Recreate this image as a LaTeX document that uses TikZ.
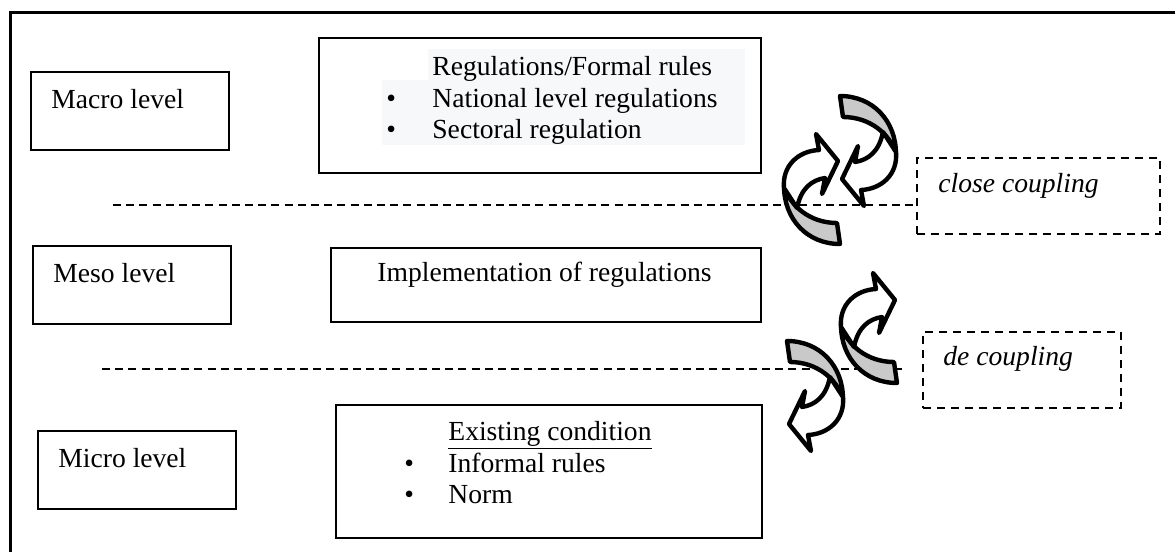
\documentclass[tikz,border=0pt]{standalone}
\usepackage{fontspec}
\setmainfont{Liberation Serif}
\usetikzlibrary{fit}
\definecolor{backgray}{HTML}{C9C9C9}
\definecolor{softshade}{HTML}{F7F8FA}
\tikzset{
  levelbox/.style={
    draw,
    line width=1pt,
    inner sep=0pt
  },
  couplebox/.style={
    draw,
    line width=1.1pt,
    dash pattern=on 4pt off 3pt,
    inner sep=0pt
  },
  sepline/.style={
    line width=0.8pt,
    dash pattern=on 4pt off 2.6pt
  },
  txt/.style={
    anchor=base west,
    inner sep=0pt,
    font=\fontsize{13.8}{16}\selectfont
  },
  pics/turnarrow/.style={
    code={
      \draw[line width=2.2pt, line join=round, fill=backgray]
        (-2,-56) .. controls (31,-56) and (54,-31) .. (54,2)
        .. controls (48,-18) and (28,-35) .. (1,-35) -- cycle;
      \draw[line width=2.2pt, line join=round, fill=white]
        (41,-20) .. controls (37,0) and (26,8) .. (13,10)
        -- (16,-6) -- (0,27) -- (22,54) -- (19,38)
        .. controls (40,37) and (56,22) .. (54,0) -- cycle;
    }
  }
}

\begin{document}
\begin{tikzpicture}[x=0.5pt,y=-0.5pt]
  \useasboundingbox (0,0) rectangle (1175,552);
  \draw[line width=1.5pt] (1175,12) -- (10,12) -- (10,552);
  % levels
  \foreach \n/\xa/\ya/\txt in {macro/31/72/Macro, meso/33/246/Meso, micro/38/431/Micro}{
    \node[levelbox, fit={(\xa,\ya) (\xa+198,\ya+78)}] (\n) {};
    \node[txt] (\n-txt) at (\xa+20,\ya+36) {\txt\ level};
  }
  % content boxes
  \fill[softshade] (428,49) rectangle (745,80);
  \fill[softshade] (382,80) rectangle (745,145);
  \node[levelbox, fit={(319,38) (761,173)}] (formal) {};
  \node[levelbox, fit={(331,248) (761,322)}] (impl) {};
  \node[levelbox, fit={(336,405) (762,538)}] (exist) {};
  \node[txt] (formal-title) at (432,75) {Regulations/Formal rules};
  \node[txt] (formal-1) at (432,107) {National level regulations};
  \node[txt] (formal-2) at (432,138) {Sectoral regulation};
  \node[txt] (impl-txt) at (377,281) {Implementation of regulations};
  \node[txt] (exist-title) at (448,440) {\underline{Existing condition}};
  \node[txt] (exist-1) at (448,472) {Informal rules};
  \node[txt] (exist-2) at (448,503) {Norm};
  \foreach \bx/\by in {386/107, 386/138, 404/472, 404/503}
    \node[txt] at (\bx,\by) {\textbullet};
  % coupling
  \node[couplebox, fit={(917,158) (1160,234)}] (close) {};
  \node[couplebox, fit={(923,332) (1121,408)}] (decouple) {};
  \node[txt, font=\fontsize{13.8}{16}\selectfont\itshape] (close-txt) at (938,192) {close coupling};
  \node[txt, font=\fontsize{13.8}{16}\selectfont\itshape] (decouple-txt) at (943,365) {de coupling};
  \coordinate (sepA) at (113,205);
  \coordinate (sepB) at (102,369);
  \coordinate (sepB-end) at (903,369);
  \draw[sepline] (sepA) -- (sepA -| close.west);
  \draw[sepline] (sepB) -- (sepB-end);
  \foreach \px/\py/\rot in {842/152/0, 838/188/180, 895/327/180, 789/397/0}
    \pic[rotate=\rot] at (\px,\py) {turnarrow};
\end{tikzpicture}
\end{document}
